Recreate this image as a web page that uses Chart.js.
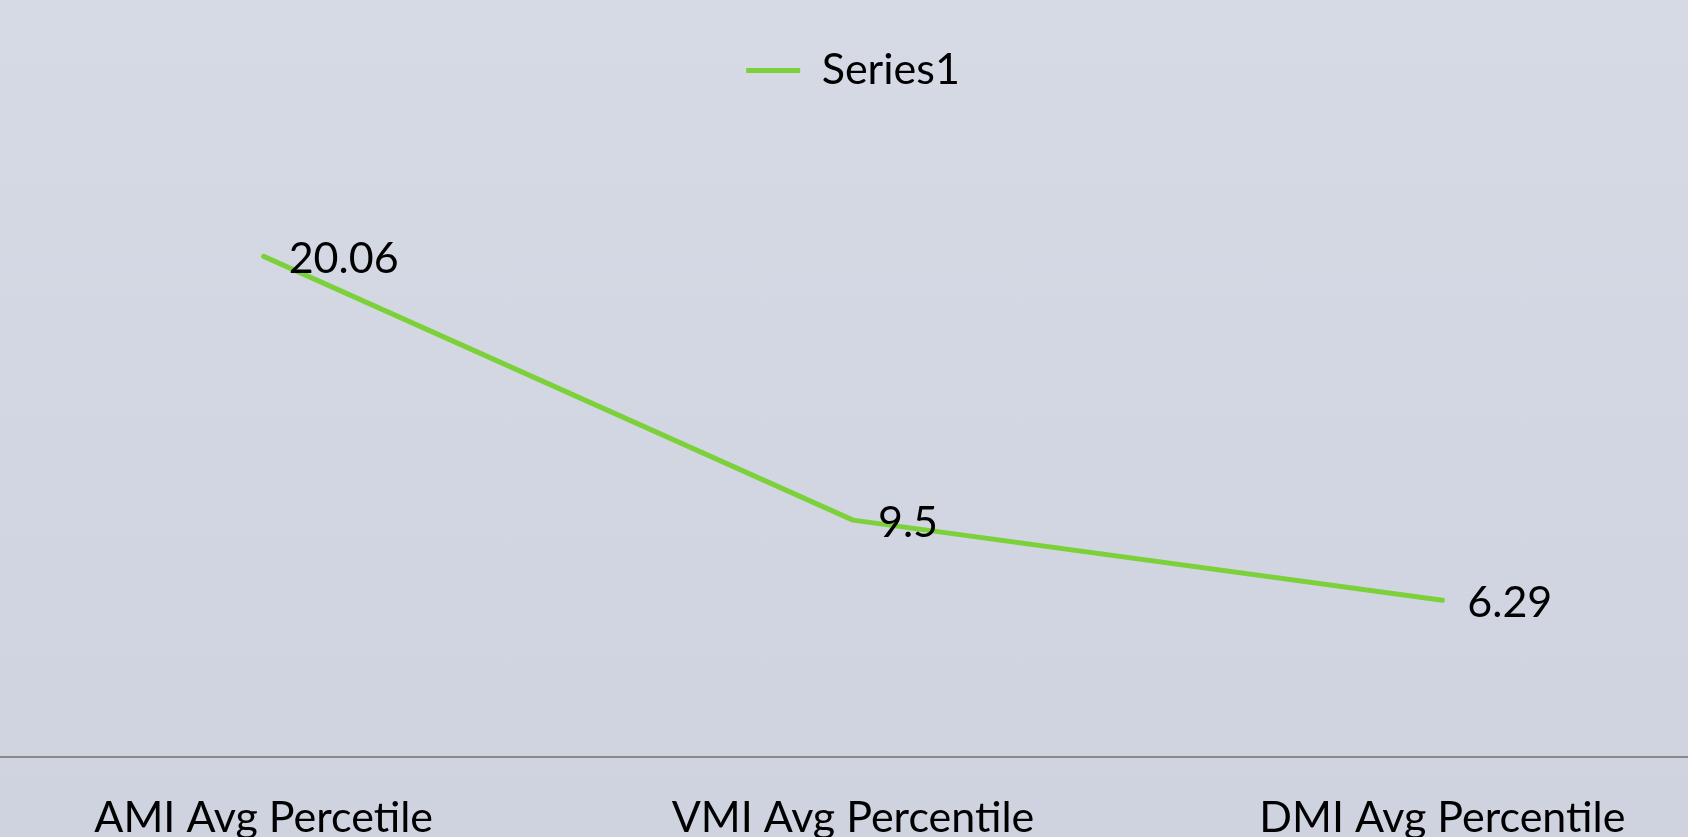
<!DOCTYPE html>
<html>
<head>
<meta charset="utf-8">
<script src="https://cdn.jsdelivr.net/npm/chart.js@4"></script>
<style>
    html, body {
        margin: 0;
        padding: 0;
        width: 1688px;
        height: 837px;
        overflow: hidden;
        background: linear-gradient(to bottom, #d6dae5, #ced3df);
    }
    #wrap {
        position: absolute;
        left: -31px;
        top: 0;
        width: 1768px;
        height: 879px;
    }
</style>
</head>
<body>
<div id="wrap"><canvas id="avg_chart"></canvas></div>
<script>
const categories = ["AMI Avg Percetile", "VMI Avg Percentile", "DMI Avg Percentile"];
const series1 = [20.06, 9.5, 6.29];
const seriesName = "Series1";
const yMin = 0;
const yMax = 25;

const lineColor = "#7cd13a";
const fontName = "Lato, 'Open Sans', sans-serif";
const fontSize = 43;

// value labels to the right of each point, like excel's "right" position
const pointLabels = {
    id: "pointLabels",
    afterDatasetsDraw(chart) {
        const ctx = chart.ctx;
        const meta = chart.getDatasetMeta(0);
        ctx.save();
        ctx.font = fontSize + "px " + fontName;
        ctx.fillStyle = "#000";
        ctx.textAlign = "left";
        ctx.textBaseline = "middle";
        meta.data.forEach(function (pt, i) {
            ctx.fillText(String(series1[i]), pt.x + 25, pt.y + 3);
        });
        ctx.restore();
    }
};

// leave a gap under the legend before the plot area starts
const legendGap = {
    id: "legendGap",
    beforeInit(chart) {
        const originalFit = chart.legend.fit;
        chart.legend.fit = function fit() {
            originalFit.bind(chart.legend)();
            this.height += 31;
        };
    }
};

let ctx = document.getElementById("avg_chart").getContext("2d");
let chart = new Chart(ctx, {
    type: "line",
    data: {
        labels: categories,
        datasets: [
            {
                label: seriesName,
                data: series1,
                borderColor: lineColor,
                backgroundColor: lineColor,
                borderWidth: 5,
                borderCapStyle: "round",
                borderJoinStyle: "round",
                pointRadius: 0,
                pointStyle: "line",
                tension: 0
            }
        ]
    },
    options: {
        maintainAspectRatio: false,
        responsive: true,
        animation: false,
        layout: {
            padding: { top: 13, left: 0, right: 0, bottom: 0 }
        },
        scales: {
            x: {
                offset: true,
                grid: { display: false, drawTicks: false },
                border: { display: true, color: "#898989", width: 2 },
                ticks: {
                    color: "#000",
                    padding: 35,
                    maxRotation: 0,
                    autoSkip: false,
                    font: { family: fontName, size: fontSize }
                }
            },
            y: {
                display: false,
                min: yMin,
                max: yMax
            }
        },
        plugins: {
            tooltip: { enabled: false },
            legend: {
                display: true,
                position: "top",
                labels: {
                    color: "#000",
                    usePointStyle: true,
                    pointStyle: "line",
                    pointStyleWidth: 54,
                    padding: 36,
                    font: { family: fontName, size: fontSize }
                }
            }
        }
    },
    plugins: [pointLabels, legendGap]
});
</script>
</body>
</html>
